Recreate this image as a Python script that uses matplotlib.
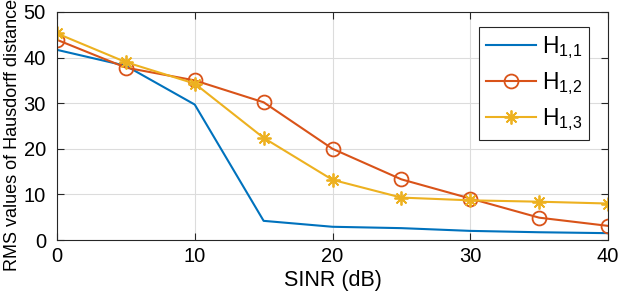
import numpy as np
from matplotlib import pyplot as plt

plt.rcParams['font.family'] = ['Liberation Sans', 'DejaVu Sans']

# data
sinr = [0, 5, 10, 15, 20, 25, 30, 35, 40]
h11 = [41.7, 38.2, 29.7, 4.2, 2.9, 2.6, 2.0, 1.7, 1.5]
h12 = [43.9, 37.8, 35.0, 30.2, 20.0, 13.3, 9.1, 4.9, 3.1]
h13 = [45.3, 39.0, 34.3, 22.4, 13.2, 9.3, 8.7, 8.4, 8.0]
labels = [r'$\mathregular{H_{1{,}1}}$', r'$\mathregular{H_{1{,}2}}$', r'$\mathregular{H_{1{,}3}}$']

c_blue = "#0072BD"
c_red = "#D95319"
c_yel = "#EDB120"

fig = plt.figure(figsize=(6.22, 3.02), dpi=100)
ax = fig.add_axes([57/622, 1-240/302, (608-57)/622, (240-12)/302])

ax.plot(sinr, h11, color=c_blue, lw=1.5, label=labels[0])
ax.plot(sinr, h12, color=c_red, lw=1.5, marker='o', ms=10, mfc='none', mew=1.3, label=labels[1])
ax.plot(sinr, h13, color=c_yel, lw=1.5, marker=(8, 2, 0), ms=10, mew=1.3, label=labels[2])

ax.set_xlim(0, 40)
ax.set_ylim(0, 50)
ax.set_xticks([0, 10, 20, 30, 40])
ax.set_yticks([0, 10, 20, 30, 40, 50])
ax.grid(True, color="#dcdcdc", lw=0.8)
ax.set_axisbelow(True)
ax.tick_params(direction='in', top=True, right=True, labelsize=14.5, length=5, color="#262626")
ax.tick_params(axis='x', pad=5)
ax.tick_params(axis='y', pad=8)
for s in ax.spines.values():
    s.set_color("#262626")
ax.set_xlabel("SINR (dB)", fontsize=15.5, labelpad=3)
ax.set_ylabel("RMS values of Hausdorff distance", fontsize=13)
ax.yaxis.set_label_coords(-0.066, 0.46)

leg = ax.legend(loc='upper right', bbox_to_anchor=(0.9655, 0.934), fontsize=16.5, fancybox=False,
                framealpha=1, edgecolor="#262626", handlelength=2.2, handletextpad=0.25,
                labelspacing=0.4, borderpad=0.3, borderaxespad=0)
leg.get_frame().set_linewidth(0.8)

plt.savefig("out.png", dpi=100)
